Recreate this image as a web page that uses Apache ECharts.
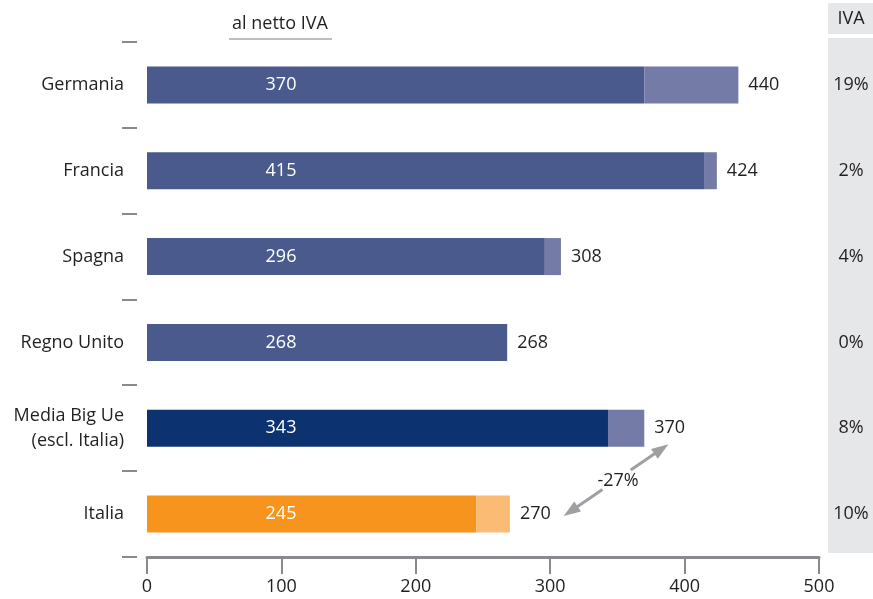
<!DOCTYPE html>
<html>
<head>
<meta charset="utf-8">
<script src="https://cdn.jsdelivr.net/npm/echarts@6/dist/echarts.min.js"></script>
<style>
  html, body { margin: 0; padding: 0; background: #ffffff; }
  #chart { width: 873px; height: 599px; }
</style>
</head>
<body>
<div id="chart"></div>
<script>
// Prezzo per kWh: al netto IVA e IVA inclusa, per paese
const categories = ['Germania', 'Francia', 'Spagna', 'Regno Unito', 'Media Big Ue\n(escl. Italia)', 'Italia'];
const netValues = [370, 415, 296, 268, 343, 245];
const grossValues = [440, 424, 308, 268, 370, 270];
const vatRates = ['19%', '2%', '4%', '0%', '8%', '10%'];
const gapLabel = '-27%';
const headerNet = 'al netto IVA';
const headerVat = 'IVA';

const FONT = '"Open Sans", sans-serif';
const FS = 18;
const TEXT = '#231f20';
const AXIS_GREY = '#8a8a8e';

// Bar colours by row: country rows, the EU average, Italy
function netColor(i) {
  if (i === 4) return '#0c3270';
  if (i === 5) return '#f7941d';
  return '#4a5a8c';
}
function vatColor(i) {
  return i === 5 ? '#fbbb74' : '#737ba6';
}

const chart = echarts.init(document.getElementById('chart'), null, { renderer: 'canvas' });

chart.setOption({
  animation: false,
  backgroundColor: '#ffffff',
  textStyle: { fontFamily: FONT },
  grid: { left: 147, right: 54, top: 42, bottom: 42, containLabel: false },
  xAxis: {
    type: 'value',
    min: 0,
    max: 500,
    interval: 100,
    axisLine: { show: true, lineStyle: { color: AXIS_GREY, width: 3 } },
    axisTick: { show: true, length: 17, lineStyle: { color: AXIS_GREY, width: 2 } },
    splitLine: { show: false },
    axisLabel: { color: TEXT, fontSize: FS, fontFamily: FONT, margin: 21 }
  },
  yAxis: [
    {
      type: 'category',
      inverse: true,
      data: categories,
      axisLine: { show: false },
      axisTick: { show: false },
      axisLabel: { color: TEXT, fontSize: FS, fontFamily: FONT, margin: 23, lineHeight: 25, align: 'right' }
    },
    {
      type: 'category',
      inverse: true,
      position: 'right',
      data: vatRates,
      axisLine: { show: false },
      axisTick: { show: false },
      axisLabel: { color: TEXT, fontSize: FS, fontFamily: FONT, margin: 32, align: 'center' }
    }
  ],
  series: [
    {
      name: 'al netto IVA',
      type: 'bar',
      stack: 'prezzo',
      barWidth: 37,
      yAxisIndex: 0,
      data: netValues.map((v, i) => ({ value: v, itemStyle: { color: netColor(i) } })),
      label: {
        show: true,
        position: [134, '50%'],
        align: 'center',
        verticalAlign: 'middle',
        color: '#ffffff',
        fontSize: FS,
        fontFamily: FONT
      }
    },
    {
      name: 'IVA',
      type: 'bar',
      stack: 'prezzo',
      barWidth: 37,
      yAxisIndex: 0,
      data: grossValues.map((g, i) => ({ value: g - netValues[i], itemStyle: { color: vatColor(i) } })),
      label: {
        show: true,
        position: 'right',
        distance: 10,
        color: TEXT,
        fontSize: FS,
        fontFamily: FONT,
        formatter: p => String(grossValues[p.dataIndex])
      }
    }
  ]
});

// Side panel, header, row separators and the gap arrow between the EU average and Italy
function buildGraphics() {
  const els = [
    { type: 'rect', z: -10, shape: { x: 828, y: 38, width: 45, height: 515 }, style: { fill: '#e6e7e8' } },
    { type: 'rect', z: -10, shape: { x: 828, y: 3, width: 45, height: 31 }, style: { fill: '#e6e7e8' } },
    { type: 'text', x: 851, y: 19, style: { text: headerVat, fill: TEXT, font: FS + 'px ' + FONT, textAlign: 'center', textVerticalAlign: 'middle' } },
    { type: 'text', x: 280, y: 24, style: { text: headerNet, fill: TEXT, font: FS + 'px ' + FONT, textAlign: 'center', textVerticalAlign: 'middle' } },
    { type: 'line', shape: { x1: 229, y1: 39, x2: 332, y2: 39 }, style: { stroke: '#bcbec0', lineWidth: 2 } }
  ];

  // short separators on the band boundaries of the category axis, set apart from the plot
  const c0 = chart.convertToPixel({ yAxisIndex: 0 }, categories[0]);
  const c1 = chart.convertToPixel({ yAxisIndex: 0 }, categories[1]);
  const band = c1 - c0;
  for (let i = 0; i <= categories.length; i++) {
    const y = Math.round(c0 - band / 2 + i * band);
    els.push({ type: 'line', shape: { x1: 122, y1: y, x2: 137, y2: y }, style: { stroke: AXIS_GREY, lineWidth: 2 } });
  }

  // arrow anchors: just past the gross-value labels of the two compared rows
  const pLow = chart.convertToPixel({ gridIndex: 0 }, [310, categories[5]]);
  const pHigh = chart.convertToPixel({ gridIndex: 0 }, [388, categories[4]]);
  const A = [pLow[0], pLow[1] + 2];
  const B = [pHigh[0], pHigh[1] + 16];
  const dx = B[0] - A[0], dy = B[1] - A[1];
  const len = Math.hypot(dx, dy);
  const u = [dx / len, dy / len];
  const n = [-u[1], u[0]];
  const at = t => [A[0] + u[0] * t, A[1] + u[1] * t];
  const grey = '#9d9fa2';
  const headLen = 17, headHalf = 6;

  const headA1 = at(headLen);
  const headB1 = at(len - headLen);
  els.push({
    type: 'polygon',
    shape: { points: [A, [headA1[0] + n[0] * headHalf, headA1[1] + n[1] * headHalf], [headA1[0] - n[0] * headHalf, headA1[1] - n[1] * headHalf]] },
    style: { fill: grey }
  });
  els.push({
    type: 'polygon',
    shape: { points: [B, [headB1[0] + n[0] * headHalf, headB1[1] + n[1] * headHalf], [headB1[0] - n[0] * headHalf, headB1[1] - n[1] * headHalf]] },
    style: { fill: grey }
  });
  const s1 = at(12), e1 = at(len * 0.37);
  const s2 = at(len * 0.64), e2 = at(len - 12);
  els.push({ type: 'line', shape: { x1: s1[0], y1: s1[1], x2: e1[0], y2: e1[1] }, style: { stroke: grey, lineWidth: 3 } });
  els.push({ type: 'line', shape: { x1: s2[0], y1: s2[1], x2: e2[0], y2: e2[1] }, style: { stroke: grey, lineWidth: 3 } });
  const mid = at(len / 2);
  els.push({
    type: 'text', x: mid[0] + 2, y: mid[1] + 1,
    style: { text: gapLabel, fill: TEXT, font: FS + 'px ' + FONT, textAlign: 'center', textVerticalAlign: 'middle' }
  });
  return els;
}

chart.setOption({ graphic: buildGraphics() });
</script>
</body>
</html>
